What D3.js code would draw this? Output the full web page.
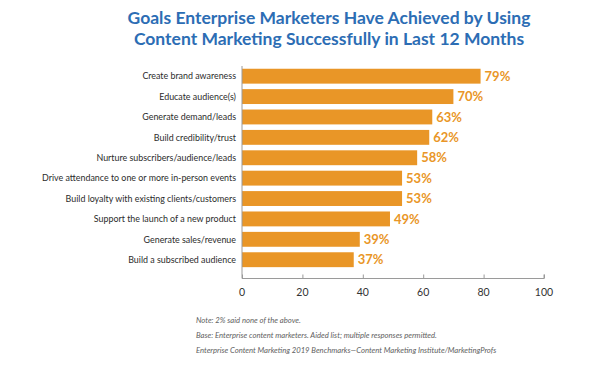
<!DOCTYPE html>
<html>
<head>
<meta charset="utf-8">
<script src="https://cdn.jsdelivr.net/npm/d3@7"></script>
<style>
  body { margin: 0; background: #fff; }
  svg { display: block; font-family: Lato, "Open Sans", sans-serif; }
</style>
</head>
<body>
<div class="svg-container"></div>
<script>
const categories = [
  "Create brand awareness",
  "Educate audience(s)",
  "Generate demand/leads",
  "Build credibility/trust",
  "Nurture subscribers/audience/leads",
  "Drive attendance to one or more in-person events",
  "Build loyalty with existing clients/customers",
  "Support the launch of a new product",
  "Generate sales/revenue",
  "Build a subscribed audience"
];
const values = [79, 70, 63, 62, 58, 53, 53, 49, 39, 37];
const xTicks = [0, 20, 40, 60, 80, 100];
const titleLines = [
  "Goals Enterprise Marketers Have Achieved by Using",
  "Content Marketing Successfully in Last 12 Months"
];
const notes = [
  "Note: 2% said none of the above.",
  "Base: Enterprise content marketers. Aided list; multiple responses permitted.",
  "Enterprise Content Marketing 2019 Benchmarks\u2014Content Marketing Institute/MarketingProfs"
];

const width = 600, height = 372;
const barColor = "#e99627";
const axisColor = "#9a9a9a";

let svg = d3.select(".svg-container")
  .append("svg")
  .attr("width", width)
  .attr("height", height);

// Title
svg.append("g").selectAll("text")
  .data(titleLines)
  .enter().append("text")
  .attr("x", 329)
  .attr("y", (d, i) => 24 + i * 21)
  .attr("text-anchor", "middle")
  .attr("font-size", "17.5px")
  .attr("font-weight", "bold")
  .attr("fill", "#2c6db4")
  .text(d => d);

let xScale = d3.scaleLinear()
  .domain([0, 100])
  .range([242, 544]);

let yScale = d3.scaleBand()
  .domain(categories)
  .range([66.3, 269.6])
  .paddingInner(0.27)
  .paddingOuter(0.12);

// Bars
svg.append("g").selectAll("rect")
  .data(values)
  .enter().append("rect")
  .attr("x", xScale(0))
  .attr("y", (d, i) => yScale(categories[i]))
  .attr("width", d => xScale(d) - xScale(0))
  .attr("height", yScale.bandwidth())
  .attr("fill", barColor);

// Value labels
svg.append("g").selectAll("text")
  .data(values)
  .enter().append("text")
  .attr("x", d => xScale(d) + 4)
  .attr("y", (d, i) => yScale(categories[i]) + yScale.bandwidth() / 2)
  .attr("dy", "0.36em")
  .attr("font-size", "13px")
  .attr("font-weight", "bold")
  .attr("fill", barColor)
  .text(d => d + "%");

// Category labels
svg.append("g").selectAll("text")
  .data(categories)
  .enter().append("text")
  .attr("x", 236)
  .attr("y", d => yScale(d) + yScale.bandwidth() / 2)
  .attr("dy", "0.36em")
  .attr("text-anchor", "end")
  .attr("font-size", "8.9px")
  .attr("fill", "#2b2b2b")
  .text(d => d);

// Vertical baseline
svg.append("line")
  .attr("x1", xScale(0)).attr("x2", xScale(0))
  .attr("y1", 66).attr("y2", 278.5)
  .attr("stroke", axisColor)
  .attr("stroke-width", 1);

// X axis
let gX = svg.append("g")
  .attr("transform", "translate(0,278.5)")
  .call(d3.axisTop(xScale).tickValues(xTicks).tickSize(4).tickFormat(""));
gX.select(".domain").attr("stroke", axisColor).attr("d", "M" + xScale(0) + ",0H" + xScale(100) + "V-4");
gX.selectAll(".tick line").attr("stroke", axisColor);

svg.append("g").selectAll("text")
  .data(xTicks)
  .enter().append("text")
  .attr("x", d => xScale(d))
  .attr("y", 296)
  .attr("text-anchor", "middle")
  .attr("font-size", "10.5px")
  .attr("fill", "#333")
  .text(d => d);

// Notes
svg.append("g").selectAll("text")
  .data(notes)
  .enter().append("text")
  .attr("x", 196)
  .attr("y", (d, i) => 323 + i * 15)
  .attr("font-size", "7.7px")
  .attr("font-style", "italic")
  .attr("fill", "#5e5e5e")
  .text(d => d);
</script>
</body>
</html>
